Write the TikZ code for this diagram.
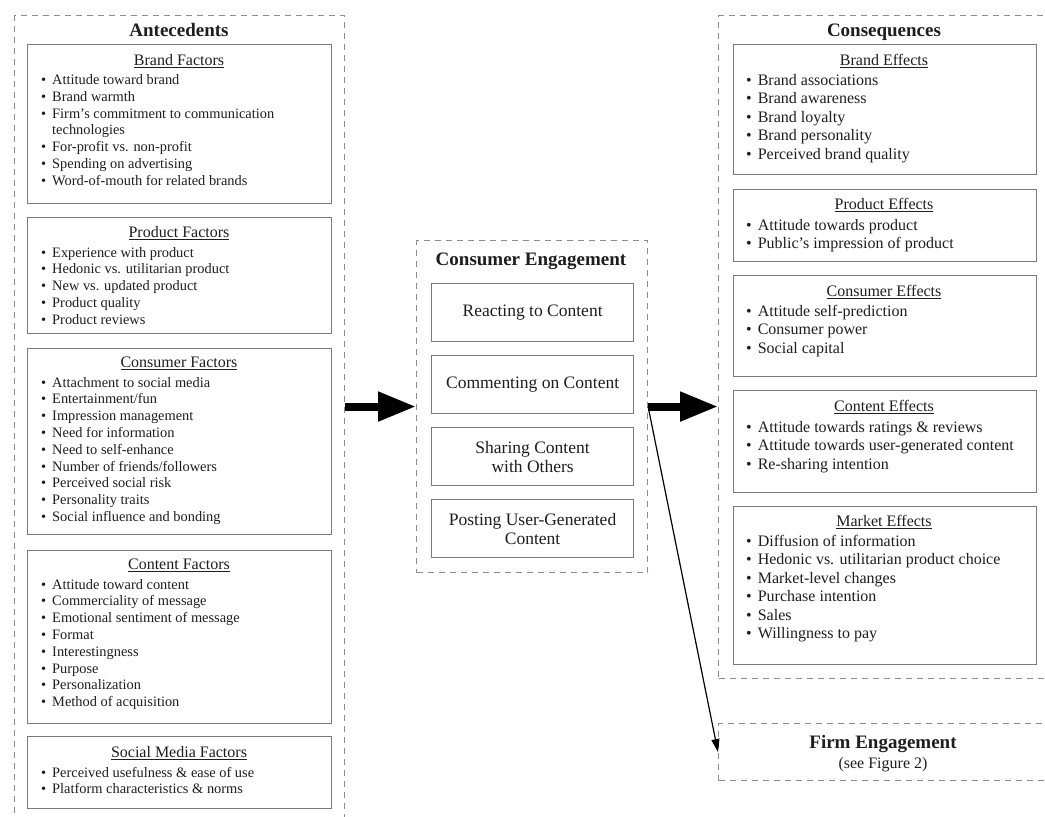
\documentclass[tikz,border=0pt]{standalone}
\usepackage{fontspec}
\setmainfont{Liberation Serif}
\usetikzlibrary{arrows.meta}
\definecolor{boxgray}{HTML}{7A7A7A}
\definecolor{dashgray}{HTML}{8C8C8C}
\definecolor{txt}{HTML}{1E1E1E}
\newcommand\blist[1]{\begin{tabular}[t]{@{}l@{\hspace{6pt}}l@{}}#1\end{tabular}}
\newcommand\bl{\textbullet}
\begin{document}
\begin{tikzpicture}[x=1pt,y=-1pt,
  every node/.style={text=txt},
  dashbox/.style={draw=dashgray, line width=1.1pt, dash pattern=on 6pt off 5pt, inner sep=0pt, anchor=north west},
  fbox/.style={draw=boxgray, line width=1.2pt, inner sep=0pt, anchor=north west},
  mbox/.style={draw=boxgray, line width=1.2pt, inner sep=0pt, anchor=north west, minimum width=202pt, minimum height=58pt, align=center, font=\fontsize{17.5}{19}\selectfont},
  title/.style={anchor=base, inner sep=0pt, font=\fontsize{19}{22}\selectfont\bfseries},
  head/.style={anchor=base, inner sep=0pt, font=\fontsize{16}{19}\selectfont},
  litems/.style={anchor=base west, inner sep=0pt, font=\fontsize{14.4}{16.8}\selectfont},
  ritems/.style={anchor=base west, inner sep=0pt, font=\fontsize{16}{18.4}\selectfont},
  bigarrow/.style={line width=8pt, draw=black, -{Triangle[length=38pt,width=28pt]}},
  thinarrow/.style={line width=1.2pt, draw=black, -{Triangle[length=13pt,width=8pt]}}
]
\clip (0,0) rectangle (1045,817);
\fill[white] (0,0) rectangle (1045,817);

% ---------- Antecedents ----------
\node[dashbox, minimum width=330pt, minimum height=815pt] (ante) at (14,15) {};
\node[title] (antet) at (179,36.5) {Antecedents};

\node[fbox, minimum width=304pt, minimum height=159pt] (bf) at (27,44) {};
\node[head] (bfh) at (179,65.5) {\underline{Brand Factors}};
\node[litems] (bfl) at (41,84.5) {\blist{%
\bl & Attitude toward brand\\
\bl & Brand warmth\\
\bl & Firm’s commitment to communication\\
 & technologies\\
\bl & For-profit vs. non-profit\\
\bl & Spending on advertising\\
\bl & Word-of-mouth for related brands}};

\node[fbox, minimum width=304pt, minimum height=116pt] (pf) at (27,217) {};
\node[head] (pfh) at (179,237.5) {\underline{Product Factors}};
\node[litems] (pfl) at (41,257) {\blist{%
\bl & Experience with product\\
\bl & Hedonic vs. utilitarian product\\
\bl & New vs. updated product\\
\bl & Product quality\\
\bl & Product reviews}};

\node[fbox, minimum width=304pt, minimum height=186pt] (cf) at (27,348) {};
\node[head] (cfh) at (179,367.5) {\underline{Consumer Factors}};
\node[litems] (cfl) at (41,387) {\blist{%
\bl & Attachment to social media\\
\bl & Entertainment/fun\\
\bl & Impression management\\
\bl & Need for information\\
\bl & Need to self-enhance\\
\bl & Number of friends/followers\\
\bl & Perceived social risk\\
\bl & Personality traits\\
\bl & Social influence and bonding}};

\node[fbox, minimum width=304pt, minimum height=173pt] (tf) at (27,550) {};
\node[head] (tfh) at (179,569.5) {\underline{Content Factors}};
\node[litems] (tfl) at (41,589) {\blist{%
\bl & Attitude toward content\\
\bl & Commerciality of message\\
\bl & Emotional sentiment of message\\
\bl & Format\\
\bl & Interestingness\\
\bl & Purpose\\
\bl & Personalization\\
\bl & Method of acquisition}};

\node[fbox, minimum width=304pt, minimum height=72pt] (sf) at (27,736) {};
\node[head] (sfh) at (179,757.5) {\underline{Social Media Factors}};
\node[litems] (sfl) at (41,777) {\blist{%
\bl & Perceived usefulness \& ease of use\\
\bl & Platform characteristics \& norms}};

% ---------- Consumer Engagement ----------
\node[dashbox, minimum width=231pt, minimum height=332pt] (ce) at (416,240) {};
\node[title] (cet) at (531,265) {Consumer Engagement};
\node[mbox] (m1) at (431,283) {Reacting to Content};
\node[mbox] (m2) at (431,355) {Commenting on Content};
\node[mbox] (m3) at (431,427) {Sharing Content\\with Others};
\node[mbox] (m4) at (431,499) {Posting User-Generated\\Content};

% ---------- Consequences ----------
\node[dashbox, minimum width=342pt, minimum height=663pt] (cons) at (718,15) {};
\node[title] (const) at (884,36.5) {Consequences};

\node[fbox, minimum width=303pt, minimum height=130pt] (be) at (733,44) {};
\node[head] (beh) at (884,65.5) {\underline{Brand Effects}};
\node[ritems] (bel) at (746,85.5) {\blist{%
\bl & Brand associations\\
\bl & Brand awareness\\
\bl & Brand loyalty\\
\bl & Brand personality\\
\bl & Perceived brand quality}};

\node[fbox, minimum width=303pt, minimum height=72pt] (pe) at (733,189) {};
\node[head] (peh) at (884,209.5) {\underline{Product Effects}};
\node[ritems] (pel) at (746,230.5) {\blist{%
\bl & Attitude towards product\\
\bl & Public’s impression of product}};

\node[fbox, minimum width=303pt, minimum height=101pt] (ue) at (733,275) {};
\node[head] (ueh) at (884,296.5) {\underline{Consumer Effects}};
\node[ritems] (uel) at (746,316.5) {\blist{%
\bl & Attitude self-prediction\\
\bl & Consumer power\\
\bl & Social capital}};

\node[fbox, minimum width=303pt, minimum height=102pt] (te) at (733,390) {};
\node[head] (teh) at (884,411.5) {\underline{Content Effects}};
\node[ritems] (tel) at (746,432.5) {\blist{%
\bl & Attitude towards ratings \& reviews\\
\bl & Attitude towards user-generated content\\
\bl & Re-sharing intention}};

\node[fbox, minimum width=303pt, minimum height=158pt] (me) at (733,506) {};
\node[head] (meh) at (884,526.5) {\underline{Market Effects}};
\node[ritems] (mel) at (746,546.5) {\blist{%
\bl & Diffusion of information\\
\bl & Hedonic vs. utilitarian product choice\\
\bl & Market-level changes\\
\bl & Purchase intention\\
\bl & Sales\\
\bl & Willingness to pay}};

% ---------- Firm Engagement ----------
\node[dashbox, minimum width=342pt, minimum height=57pt] (firm) at (718,723) {};
\node[title] (firmt) at (883,748) {Firm Engagement};
\node[head] (firms) at (883,768) {(see Figure 2)};

% ---------- Connectors ----------
\draw[bigarrow] (ante.east |- ce.west) -- (ce.west);
\draw[bigarrow] (ce.east) -- (ce.east -| cons.west);
\draw[thinarrow] (ce.east) -- (firm.west);
\end{tikzpicture}
\end{document}
